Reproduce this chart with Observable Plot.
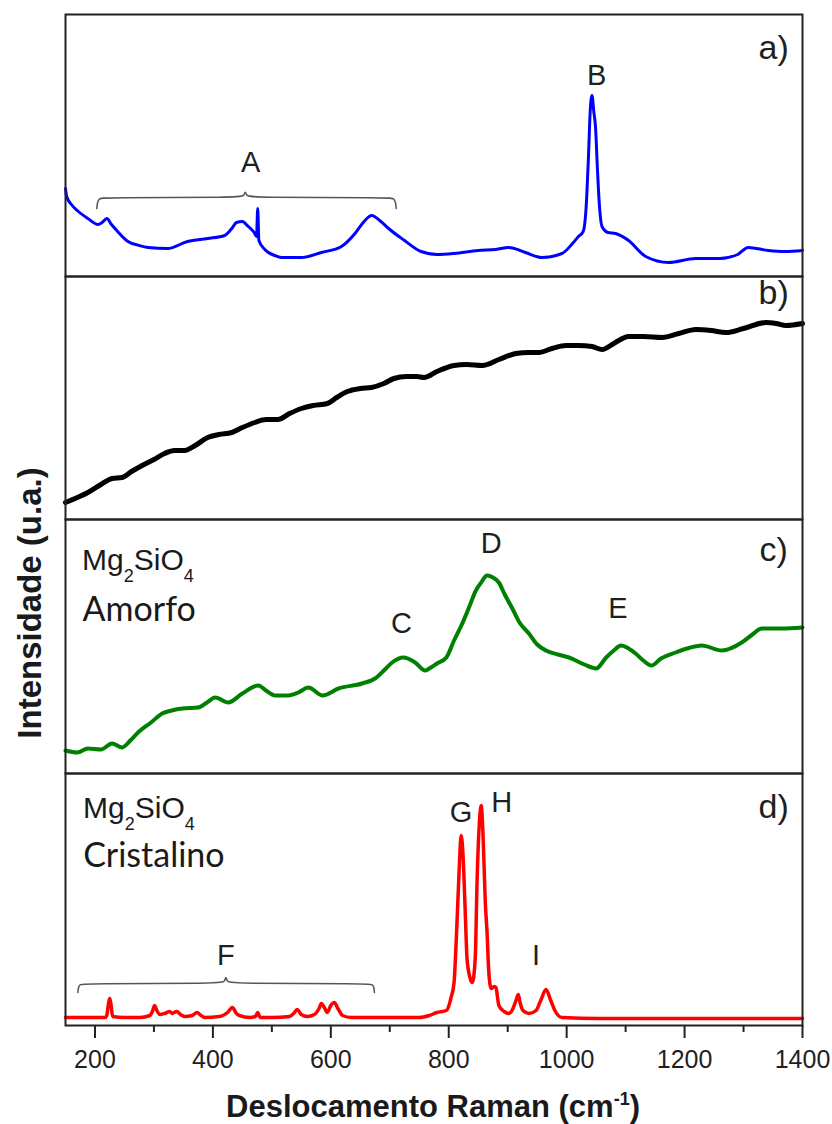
<!DOCTYPE html>
<html>
<head>
<meta charset="utf-8">
<script src="https://cdn.jsdelivr.net/npm/d3@7"></script>
<script src="https://cdn.jsdelivr.net/npm/@observablehq/plot@0.6"></script>
<style>
  body { margin: 0; background: #fff; }
  #root { position: relative; width: 832px; height: 1124px; overflow: hidden; font-family: "Liberation Sans", Arial, sans-serif; color: #1a1a1a; }
  .panel { position: absolute; left: 0; }
  .panel svg { overflow: visible; display: block; }
  .formula { position: absolute; font-size: 30px; line-height: 1; color: #1a1a1a; white-space: nowrap; }
  .formula sub { font-size: 18px; vertical-align: -12px; line-height: 0; }
  #ylab { position: absolute; left: -170px; top: 583px; width: 400px; height: 40px; line-height: 40px; text-align: center; font-weight: bold; font-size: 33px; transform: rotate(-90deg); transform-origin: 50% 50%; white-space: nowrap; }
  #xlab { position: absolute; left: 33px; top: 1091px; width: 800px; text-align: center; font-weight: bold; font-size: 31px; line-height: 1; white-space: nowrap; }
  #xlab sup { font-size: 18px; vertical-align: 12px; line-height: 0; }
</style>
</head>
<body>
<div id="root">
  <div id="ylab">Intensidade (u.a.)</div>
  <div id="xlab">Deslocamento Raman (cm<sup>-1</sup>)</div>
</div>
<script>
// ---- data: [Raman shift (cm-1), intensity (a.u.)] ----
const spectrumA = [[150,88],[152,80],[160,72],[170,66],[188,58],[205,52],[212,54],[220,58],[228,52],[237,46],[256,35],[275,31],[290,29],[323,28],[357,35],[391,38],[420,41],[432,48],[440,54],[450,55],[460,50],[470,44],[474,40],[476,68],[478,36],[488,27],[505,21],[516,19],[550,19],[584,24],[618,30],[641,43],[655,54],[669,61],[685,55],[696,49],[725,36],[753,25],[780,22],[809,23],[850,26],[880,27],[902,29],[930,24],[958,19],[992,23],[1010,33],[1020,40],[1028,45],[1033,69],[1037,120],[1040,166],[1043,181],[1046,165],[1049,149],[1052,110],[1055,76],[1060,50],[1070,44],[1083,43],[1105,36],[1134,20],[1173,14],[1219,18],[1260,18],[1290,22],[1308,29],[1342,26],[1370,25],[1400,26]];

const spectrumB = [[150,17],[170,22],[188,27],[210,35],[229,41],[246,42],[262,48],[280,54],[300,60],[318,66],[335,69],[352,69],[370,74],[391,82],[410,85],[432,87],[450,92],[471,97],[490,100],[510,100],[530,106],[550,111],[570,114],[594,116],[610,122],[628,128],[650,131],[669,132],[690,136],[707,141],[728,143],[746,143],[758,142],[780,148],[809,154],[830,155],[857,154],[885,160],[914,166],[935,167],[953,167],[975,171],[999,174],[1020,174],[1043,173],[1060,170],[1080,176],[1105,183],[1130,183],[1162,182],[1190,186],[1219,190],[1245,189],[1270,187],[1300,191],[1338,197],[1355,196],[1372,194],[1400,196]];

const spectrumC = [[150,22],[170,20],[188,24],[210,23],[229,29],[246,25],[260,32],[273,40],[295,50],[314,59],[330,62],[348,64],[375,65],[390,70],[404,75],[426,70],[450,79],[477,87],[490,82],[506,77],[528,77],[545,80],[562,85],[586,77],[613,84],[653,89],[675,94],[690,102],[704,110],[723,115],[743,110],[760,102],[767,104],[780,109],[796,115],[809,132],[823,149],[835,166],[846,182],[855,190],[865,197],[875,195],[885,190],[895,178],[907,165],[920,150],[936,139],[950,128],[965,122],[985,118],[1004,115],[1030,108],[1050,104],[1067,115],[1080,122],[1092,127],[1105,124],[1117,119],[1130,112],[1144,107],[1160,114],[1185,120],[1210,125],[1229,127],[1263,122],[1297,130],[1315,138],[1331,144],[1365,144],[1400,145]];

const spectrumD = [[150,8],[188,8],[217,8],[220,10],[223,22],[225,27],[227,22],[230,9],[250,8],[276,8],[293,10],[298,15],[301,20],[305,15],[310,11],[318,12],[327,14],[331,12],[334,13],[339,14],[345,11],[352,9],[365,10],[373,13],[380,10],[386,8],[411,9],[425,13],[433,18],[440,12],[445,10],[462,8],[472,9],[476,13],[480,8],[500,8],[530,9],[537,12],[543,16],[550,11],[560,9],[572,11],[580,17],[584,22],[589,18],[594,13],[600,20],[606,23],[612,17],[620,10],[635,8],[700,8],[750,8],[767,10],[780,13],[796,15],[804,28],[809,43],[814,103],[818,160],[821,190],[824,173],[828,113],[831,67],[836,48],[840,43],[845,68],[848,143],[852,203],[855,220],[858,193],[862,123],[865,93],[868,53],[872,37],[877,39],[880,38],[885,20],[894,14],[902,12],[909,17],[914,25],[918,31],[921,23],[926,15],[936,12],[948,15],[956,25],[965,36],[973,25],[980,15],[992,8],[1055,7],[1200,7],[1400,7]];

// bracket annotations (same units)
const bracketA = [[203,68],[204,74],[207,78],[212,79],[448,79],[453,81],[455,86],[457,81],[462,79],[702,79],[707,78],[710,74],[711,68]];
const bracketF = [[171,33],[172,39],[175,41],[180,42],[415,42],[420,44],[422,50],[424,44],[429,42],[665,42],[670,41],[673,39],[674,33]];

// peak letters
const labelsA = [{t:"A", x:464, y:114}, {t:"B", x:1051, y:201}];
const labelsC = [{t:"C", x:720, y:149}, {t:"D", x:872, y:229}, {t:"E", x:1087, y:164}];
const labelsD = [{t:"G", x:821, y:213}, {t:"H", x:890, y:223}, {t:"I", x:948, y:70}, {t:"F", x:422, y:70}];
const panelTags = ["a)", "b)", "c)", "d)"];
const sampleNames = ["Amorfo", "Cristalino"];

const xDomain = [150, 1400];
const majorTicks = [200, 400, 600, 800, 1000, 1200, 1400];
const tickLabels = ["200", "400", "600", "800", "1000", "1200", "1400"];
const minorTicks = [300, 500, 700, 900, 1100, 1300];

const FONT = '"Liberation Sans", Arial, sans-serif';
const root = document.getElementById("root");

function addPanel(top, height, yDomain, marks, marginBottom = 0, xAxis = false) {
  const chart = Plot.plot({
    width: 832,
    height: height + marginBottom,
    marginLeft: 65, marginRight: 30, marginTop: 0, marginBottom,
    x: xAxis ? {domain: xDomain} : {domain: xDomain, axis: null},
    y: {domain: yDomain, axis: null},
    style: {fontFamily: FONT, color: "#1a1a1a", background: "transparent", overflow: "visible"},
    marks
  });
  const div = document.createElement("div");
  div.className = "panel";
  div.style.top = top + "px";
  div.appendChild(chart);
  root.appendChild(div);
}

const fx = d => d[0], fy = d => d[1];
const letters = (data) => Plot.text(data, {x: "x", y: "y", text: "t", fontSize: 29, fill: "#1f1f1f", fontFamily: FONT});
const tag = (t, y) => Plot.text([t], {x: [1351], y: [y], text: d => d, fontSize: 34, fill: "#1f1f1f", fontFamily: FONT});
const frame = Plot.frame({stroke: "#222", strokeWidth: 2});

// a)
addPanel(14, 262, [0, 262], [
  Plot.line(spectrumA, {x: fx, y: fy, stroke: "#0000ff", strokeWidth: 3, curve: "monotone-x"}),
  Plot.line(bracketA, {x: fx, y: fy, stroke: "#555", strokeWidth: 1.5, curve: "basis"}),
  letters(labelsA),
  tag(panelTags[0], 228),
  frame
]);

// b)
addPanel(276, 243, [0, 243], [
  Plot.line(spectrumB, {x: fx, y: fy, stroke: "#000", strokeWidth: 5, curve: "monotone-x"}),
  tag(panelTags[1], 226),
  frame
]);

// c)
addPanel(519, 254, [-1, 253], [
  Plot.line(spectrumC, {x: fx, y: fy, stroke: "#008000", strokeWidth: 4, curve: "monotone-x"}),
  letters(labelsC),
  Plot.text([sampleNames[0]], {x: [179], y: [162], text: d => d, textAnchor: "start", fontSize: 34, fill: "#1a1a1a", fontFamily: "Lato, 'Open Sans', sans-serif"}),
  tag(panelTags[2], 222),
  frame
]);

// d)
addPanel(773, 252, [0, 252], [
  Plot.line(spectrumD, {x: fx, y: fy, stroke: "#ff0000", strokeWidth: 3.5, curve: "monotone-x"}),
  Plot.line(bracketF, {x: fx, y: fy, stroke: "#555", strokeWidth: 1.5, curve: "basis"}),
  letters(labelsD),
  Plot.text([sampleNames[1]], {x: [180], y: [169], text: d => d, textAnchor: "start", fontSize: 34, fill: "#1a1a1a", fontFamily: "Lato, 'Open Sans', sans-serif"}),
  tag(panelTags[3], 218),
  frame,
  Plot.axisX({ticks: majorTicks, tickSize: 13, tickPadding: 12, fontSize: 25, strokeWidth: 2, stroke: "#222", fill: "#1f1f1f", label: null, tickFormat: (d, i) => tickLabels[i]}),
  Plot.axisX({ticks: minorTicks, tickSize: 7, strokeWidth: 2, stroke: "#222", label: null, tickFormat: () => ""})
], 99, true);

// chemical formula labels (with subscripts)
[[545, 82], [793, 83]].forEach(([top, left]) => {
  const f = document.createElement("div");
  f.className = "formula";
  f.style.top = top + "px";
  f.style.left = left + "px";
  f.innerHTML = "Mg<sub>2</sub>SiO<sub>4</sub>";
  root.appendChild(f);
});
</script>
</body>
</html>
